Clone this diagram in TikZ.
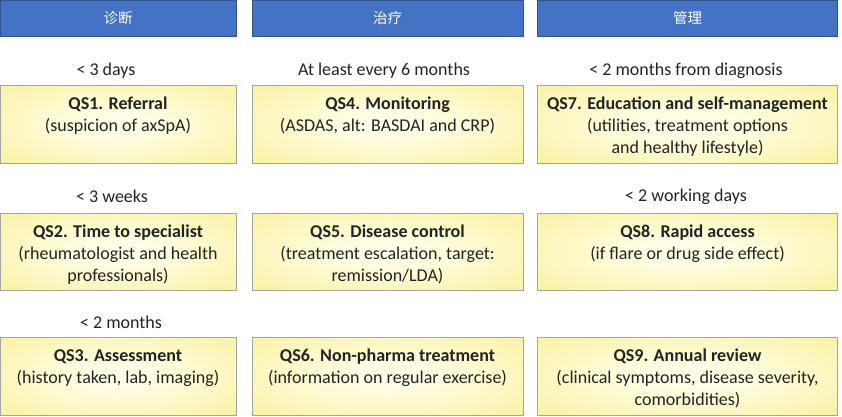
\documentclass[tikz,border=0pt]{standalone}
\usepackage{fontspec}
\setmainfont{Carlito}
\newfontfamily\cjk{Noto Sans CJK SC}
\usetikzlibrary{positioning}
\definecolor{hdrblue}{RGB}{68,114,196}
\definecolor{hdredge}{RGB}{47,82,143}
\definecolor{boxin}{RGB}{255,255,232}
\definecolor{boxout}{RGB}{247,237,142}
\definecolor{boxedge}{RGB}{165,165,160}
\definecolor{txt}{RGB}{35,35,35}
\pgfdeclareradialshading{qsglow}{\pgfpoint{0bp}{0bp}}{%
  color(0bp)=(boxin); color(6bp)=(boxin); color(45bp)=(boxout); color(75bp)=(boxout)}
\tikzset{
  hdr/.style={draw=hdredge, line width=0.8pt, fill=hdrblue, text=white, inner sep=0pt, font=\cjk\fontsize{14.5}{16}\selectfont},
  qsbox/.style={draw=boxedge, line width=1pt, shading=qsglow, inner sep=0pt},
  qstext/.style={align=center, text=txt, font=\fontsize{18}{22}\selectfont, inner sep=0pt},
  timelbl/.style={text=txt, font=\fontsize{18}{22}\selectfont, inner sep=0pt},
}
\begin{document}
\begin{tikzpicture}[x=1pt,y=-1pt]
\useasboundingbox (0,0) rectangle (842,416);
% headers
\node[hdr, minimum width=236pt, minimum height=36pt] (h1) at (118,18) {诊断};
\node[hdr, minimum width=271pt, minimum height=36pt] (h2) at (387.5,18) {治疗};
\node[hdr, minimum width=300pt, minimum height=36pt] (h3) at (687.5,18) {管理};
% time labels
\node[timelbl] (l1) at (106,70.5) {< 3 days};
\node[timelbl] (l4) at (384,70.5) {At least every 6 months};
\node[timelbl] (l7) at (686,70.5) {< 2 months from diagnosis};
\node[timelbl] (l2) at (112,196.5) {< 3 weeks};
\node[timelbl] (l8) at (686,196.5) {< 2 working days};
\node[timelbl] (l3) at (121,322.5) {< 2 months};
% boxes column 1
\node[qsbox, minimum width=236pt, minimum height=78pt] (b1) at (118,124) {};
\node[qsbox, minimum width=236pt, minimum height=77pt] (b2) at (118,251.5) {};
\node[qsbox, minimum width=236pt, minimum height=78pt] (b3) at (118,376) {};
% column 2
\node[qsbox, minimum width=271pt, minimum height=78pt] (b4) at (387.5,124) {};
\node[qsbox, minimum width=271pt, minimum height=77pt] (b5) at (387.5,251.5) {};
\node[qsbox, minimum width=271pt, minimum height=78pt] (b6) at (387.5,376) {};
% column 3
\node[qsbox, minimum width=300pt, minimum height=78pt] (b7) at (687.5,124) {};
\node[qsbox, minimum width=300pt, minimum height=77pt] (b8) at (687.5,251.5) {};
\node[qsbox, minimum width=300pt, minimum height=78pt] (b9) at (687.5,376) {};
% texts
\node[qstext, anchor=north] (t1) at ([yshift=-12.5pt]b1.north) {\textbf{QS1. Referral}\\(suspicion of axSpA)};
\node[qstext, anchor=north] (t2) at ([yshift=-12.5pt]b2.north) {\textbf{QS2. Time to specialist}\\(rheumatologist and health\\professionals)};
\node[qstext, anchor=north] (t3) at ([yshift=-12.5pt]b3.north) {\textbf{QS3. Assessment}\\(history taken, lab, imaging)};
\node[qstext, anchor=north] (t4) at ([yshift=-12.5pt]b4.north) {\textbf{QS4. Monitoring}\\(ASDAS, alt: BASDAI and CRP)};
\node[qstext, anchor=north] (t5) at ([yshift=-12.5pt]b5.north) {\textbf{QS5. Disease control}\\(treatment escalation, target:\\remission/LDA)};
\node[qstext, anchor=north] (t6) at ([yshift=-12.5pt]b6.north) {\textbf{QS6. Non-pharma treatment}\\(information on regular exercise)};
\node[qstext, anchor=north] (t7) at ([yshift=-12.5pt]b7.north) {\textbf{QS7. Education and self-management}\\(utilities, treatment options\\and healthy lifestyle)};
\node[qstext, anchor=north] (t8) at ([yshift=-12.5pt]b8.north) {\textbf{QS8. Rapid access}\\(if flare or drug side effect)};
\node[qstext, anchor=north] (t9) at ([yshift=-12.5pt]b9.north) {\textbf{QS9. Annual review}\\(clinical symptoms, disease severity,\\comorbidities)};
\end{tikzpicture}
\end{document}
